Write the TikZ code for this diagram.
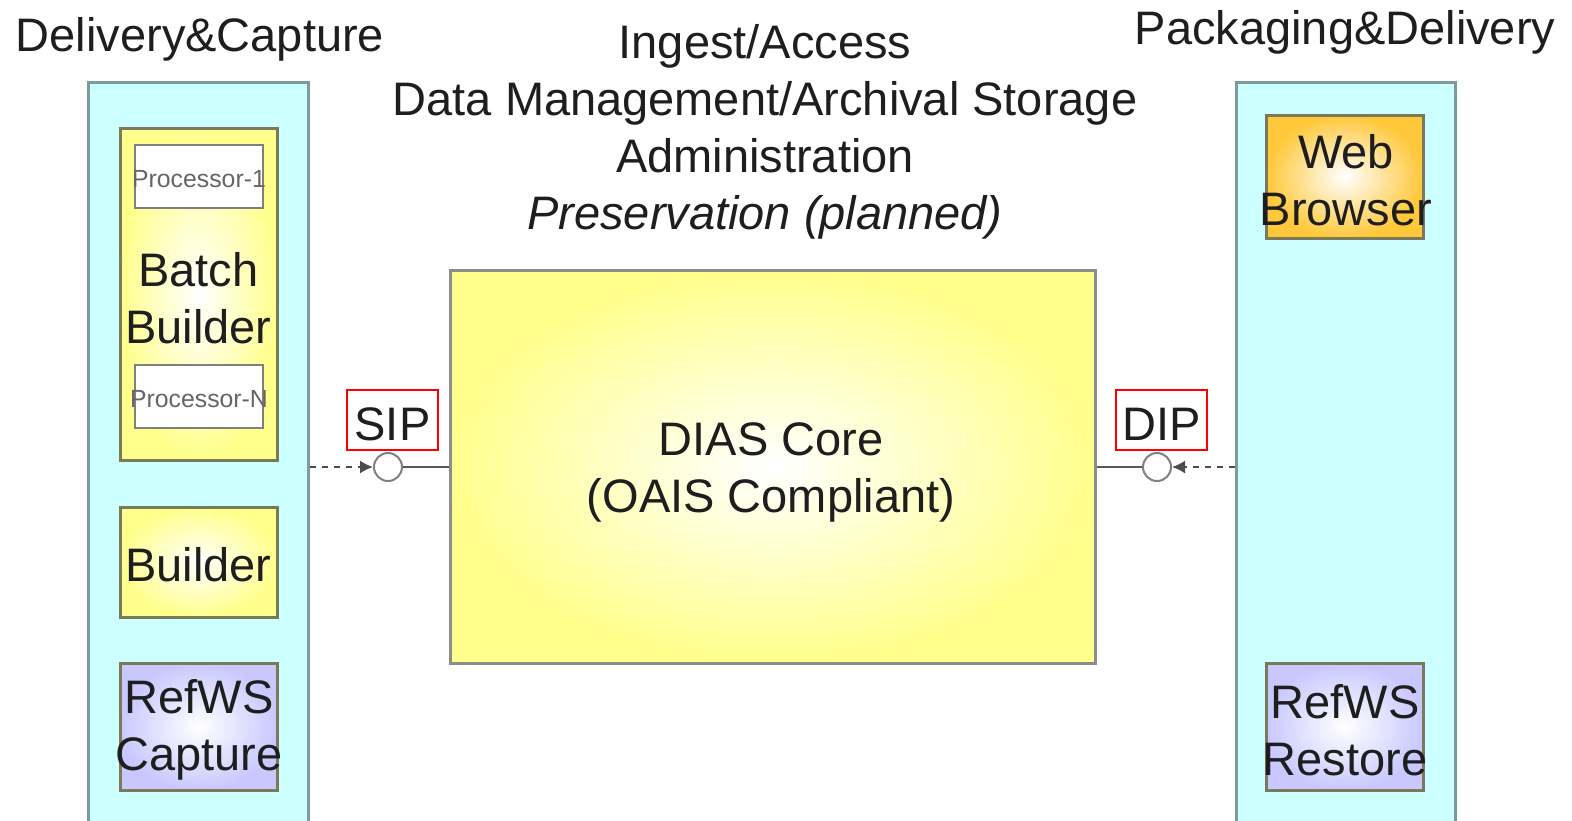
\documentclass[tikz,border=0pt]{standalone}
\usepackage{fontspec}
\setmainfont{Liberation Sans}
\usetikzlibrary{arrows.meta}
\definecolor{panelfill}{HTML}{CCFFFF}
\definecolor{panelline}{HTML}{7F9A9A}
\definecolor{boxline}{HTML}{7A7A5A}
\definecolor{yel}{HTML}{FFFF8C}
\definecolor{orng}{HTML}{FFC83A}
\definecolor{lav}{HTML}{C8C8FF}
\definecolor{txt}{HTML}{1E1E1E}
\definecolor{circ}{HTML}{808080}
\begin{document}
\begin{tikzpicture}[x=0.5pt,y=-0.5pt,
  big/.style={font=\fontsize{23.5pt}{28.5pt}\selectfont, text=txt},
  panel/.style={draw=panelline, line width=1.5pt, fill=panelfill, minimum width=110pt, minimum height=380pt, inner sep=0pt},
  comp/.style={draw=boxline, line width=1.5pt, inner sep=0pt},
  yelbox/.style={comp, inner color=white, outer color=yel},
  orbox/.style={comp, inner color=white, outer color=orng},
  lavbox/.style={comp, inner color=white, outer color=lav},
  label/.style={big, align=center, inner sep=0pt},
  procbox/.style={draw=circ, line width=1.2pt, fill=white, minimum width=64pt, minimum height=31.5pt, inner sep=0pt},
  proctext/.style={inner sep=0pt, font=\fontsize{12.4pt}{14pt}\selectfont, text=black!60},
  redbox/.style={draw=red, line width=0.8pt, minimum width=45.5pt, minimum height=30pt, inner sep=0pt, big},
  port/.style={circle, draw=circ, fill=white, line width=1pt, minimum size=14pt, inner sep=0pt},
  link/.style={draw=black!65, line width=0.9pt},
  dlink/.style={draw=black!70, line width=0.9pt, dash pattern=on 3pt off 3pt, -{Latex[length=6.5pt,width=6.5pt]}}
]
\useasboundingbox (0,0) rectangle (1572,820);
\clip (0,0) rectangle (1572,820);
\fill[white] (0,0) rectangle (1572,820);

% panels
\node[panel] (lp) at (198,462) {};
\node[panel, minimum width=109.5pt] (rp) at (1345.5,462) {};

% left components
\node[yelbox, minimum width=78.5pt, minimum height=166pt] (bb) at (198.5,294) {};
\node[label] (bbt) at (198.5,298) {Batch\\Builder};
\node[procbox] (p1) at (199,176.5) {};
\node[proctext] (p1t) at (199,179) {Processor-1};
\node[procbox] (pn) at (199,396.5) {};
\node[proctext] (pnt) at (199,399) {Processor-N};
\node[yelbox, minimum width=78.5pt, minimum height=55pt] (bu) at (198.5,562) {};
\node[label] (but) at (198.5,565) {Builder};
\node[lavbox, minimum width=78.5pt, minimum height=63.5pt] (rc) at (198.5,726.5) {};
\node[label] (rct) at (199,730) {RefWS\\Capture};

% right components
\node[orbox, minimum width=78.5pt, minimum height=61.5pt] (wb) at (1344.5,176.5) {};
\node[label] (wbt) at (1346,180) {Web\\Browser};
\node[lavbox, minimum width=78.5pt, minimum height=63.5pt] (rr) at (1344.5,726.5) {};
\node[label] (rrt) at (1345,730) {RefWS\\Restore};

% core
\node[yelbox, minimum width=322.5pt, minimum height=196.5pt, draw=black!45] (core) at (772.5,466.5) {};
\node[label] (coretxt) at (771,472) {DIAS Core\\(OAIS Compliant)};

% titles
\node[big] (t1) at (200,39) {Delivery\&Capture};
\node[big] (t3) at (1345,32) {Packaging\&Delivery};
\node[label] (t2) at (765,132) {Ingest/Access\\Data Management/Archival Storage\\Administration\\\textit{Preservation (planned)}};

% SIP / DIP
\node[draw=red, line width=0.8pt, minimum width=45.5pt, minimum height=30pt, inner sep=0pt] (sip) at (392.5,420) {};
\node[label] (sipt) at (392.5,424) {SIP};
\node[draw=red, line width=0.8pt, minimum width=45.5pt, minimum height=30pt, inner sep=0pt] (dip) at (1161.5,420) {};
\node[label] (dipt) at (1161.5,424) {DIP};
\node[port] (sipc) at (388,467) {};
\node[port] (dipc) at (1157,467) {};

\draw[link] (sipc.east) -- (core.west |- sipc);
\draw[link] (dipc.west) -- (core.east |- dipc);
\draw[dlink] (lp.east |- sipc) -- (sipc.west);
\draw[dlink] (rp.west |- dipc) -- (dipc.east);
\end{tikzpicture}
\end{document}
